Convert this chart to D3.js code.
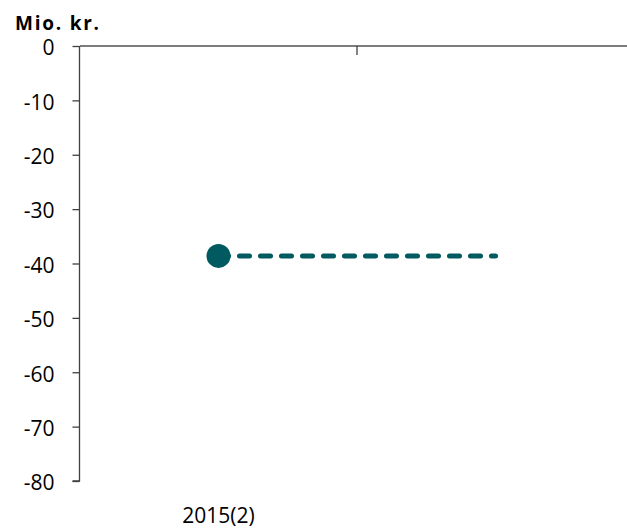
<!DOCTYPE html>
<html>
<head>
<meta charset="utf-8">
<script src="https://cdn.jsdelivr.net/npm/d3@7"></script>
<style>
html,body{margin:0;padding:0;background:#fff;}
svg{display:block;font-family:"Open Sans","Noto Sans",sans-serif;}
</style>
</head>
<body>
<svg id="chart" width="627" height="528"></svg>
<script>
const categories = ["2015(2)", ""];
const markerValues = [-38.6, null];
const lineValues = [-38.6, -38.6];
const yTicks = [0, -10, -20, -30, -40, -50, -60, -70, -80];
const unitLabel = "Mio. kr.";

const svg = d3.select("#chart");
const color = "#005a60";

const x = d3.scaleBand().domain(categories).range([80, 634]);
const y = d3.scaleLinear().domain([-80, 0]).range([481, 46]);

// y axis
const yAxis = svg.append("g").attr("transform", "translate(79.5,0)")
  .call(d3.axisLeft(y).tickValues(yTicks).tickSize(7).tickPadding(18).tickFormat(d => String(d)));
yAxis.select(".domain").attr("stroke", "#404040").attr("stroke-width", 1.3).attr("d", `M-7,${y(-80)}H0V${y(0)}`);
yAxis.selectAll(".tick line").attr("stroke", "#404040").attr("stroke-width", 1.3);
yAxis.selectAll(".tick text").attr("fill", "#000").attr("dy", "0.42em")
  .style("font-size", "21px").style("font-family", "'Open Sans', sans-serif");

// x axis at zero
const xAxis = svg.append("g").attr("transform", `translate(0,${y(0)})`)
  .call(d3.axisBottom(x).tickSize(0).tickFormat(""));
xAxis.select(".domain").attr("stroke", "#505050").attr("stroke-width", 1.6).attr("d", `M80,0H627`);
xAxis.selectAll(".tick").remove();
// boundary tick between categories
xAxis.append("line")
  .attr("x1", x(categories[1])).attr("x2", x(categories[1]))
  .attr("y1", 0).attr("y2", 9).attr("stroke", "#404040").attr("stroke-width", 1.3);

// category labels at bottom
svg.append("g").selectAll("text").data(categories).join("text")
  .attr("x", d => x(d) + x.bandwidth() / 2)
  .attr("y", 523)
  .attr("text-anchor", "middle")
  .style("font-size", "21px")
  .text(d => d);

// unit label
svg.append("text").attr("x", 15).attr("y", 30)
  .attr("textLength", 84).attr("lengthAdjust", "spacing")
  .style("font-size", "19px").style("font-weight", "bold").text(unitLabel);

// dashed line
const pts = categories.map((c, i) => ({c, v: lineValues[i]}));
svg.append("path").datum(pts)
  .attr("d", d3.line().x(d => x(d.c) + x.bandwidth() / 2).y(d => y(d.v)))
  .attr("fill", "none").attr("stroke", color).attr("stroke-width", 5)
  .attr("stroke-linecap", "round").attr("stroke-dasharray", "10,11");

// marker
svg.append("g").selectAll("circle")
  .data(categories.map((c, i) => ({c, v: markerValues[i]})).filter(d => d.v != null))
  .join("circle")
  .attr("cx", d => x(d.c) + x.bandwidth() / 2)
  .attr("cy", d => y(d.v))
  .attr("r", 12).attr("fill", color);
</script>
</body>
</html>
